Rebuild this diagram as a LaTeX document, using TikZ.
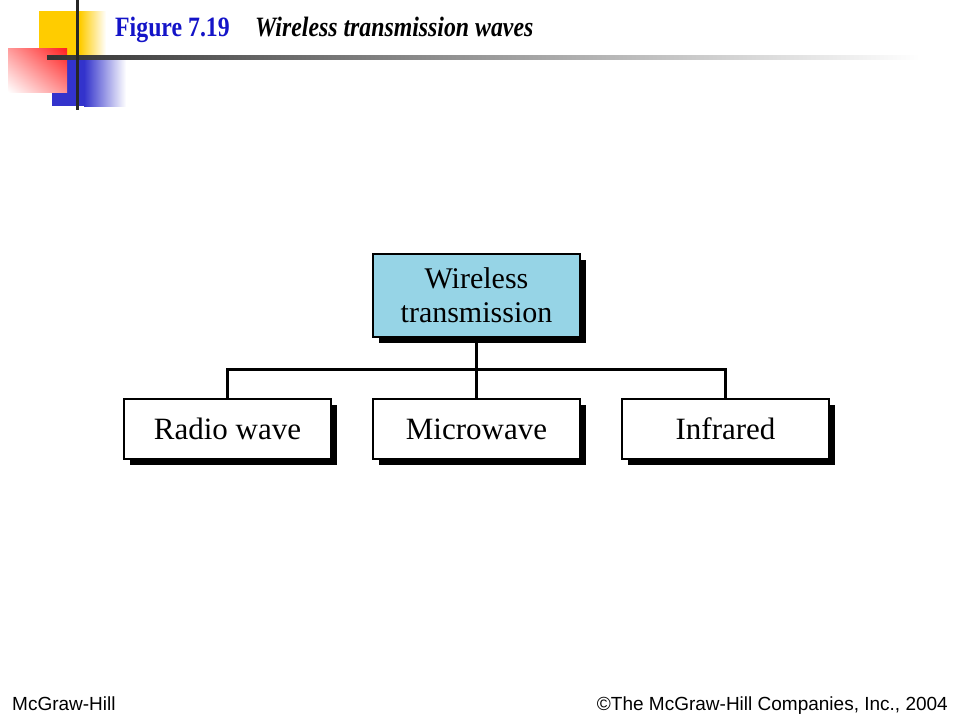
\documentclass[tikz,border=0pt]{standalone}
\usepackage{fontspec}
\setmainfont{Liberation Serif}
\newfontfamily\footfont{Liberation Sans}
\usetikzlibrary{shadows,shadings}
\definecolor{boxblue}{RGB}{150,212,230}
\definecolor{titleblue}{RGB}{20,20,200}
\definecolor{decoyellow}{RGB}{255,204,0}
\definecolor{decored}{RGB}{255,30,30}
\definecolor{decoblue}{RGB}{51,51,204}
\tikzset{
  chartbox/.style={draw=black, line width=1.6pt, minimum width=207pt, inner sep=0pt,
    font=\fontsize{30}{34}\selectfont, align=center,
    general shadow={shadow xshift=6pt, shadow yshift=-6pt, fill=black}},
  topbox/.style={chartbox, fill=boxblue, minimum height=83pt},
  leafbox/.style={chartbox, fill=white, minimum height=60pt, font=\fontsize{31}{34}\selectfont},
  conn/.style={line width=3pt, line cap=rect},
  foot/.style={anchor=base, inner sep=0pt, font=\footfont\fontsize{19}{22}\selectfont}
}
\begin{document}
\begin{tikzpicture}[x=1pt,y=-1pt]
\useasboundingbox (0,0) rectangle (960,720);
\fill[white] (0,0) rectangle (960,720);
% decoration
\fill[decoyellow] (39,11) rectangle (80,57);
\shade[left color=decoyellow, right color=white] (80,11) rectangle (106,57);
\fill[decoblue] (52,57) rectangle (84,106);
\shade[left color=decoblue, right color=white] (84,57) rectangle (126,106);
\shade[upper right=decored, upper left=decored!45, lower left=white, lower right=decored!50] (8,48) rectangle (67,92);
\shade[left color=black!80, right color=white] (47,55) rectangle (920,59);
\fill[black!85] (75.5,0) rectangle (78.5,110);
% title
\node[anchor=base west, inner sep=0pt, text=titleblue, font=\fontsize{28}{30}\selectfont\bfseries] (fig) at (115,36) {\scalebox{0.85}[1]{Figure 7.19}};
\node[anchor=base west, inner sep=0pt, font=\fontsize{28}{30}\selectfont\bfseries\itshape] (cap) at (255,36) {\scalebox{0.85}[1]{Wireless transmission waves}};
% chart
\node[topbox] (wt) at (476.5,295.5) {Wireless\\transmission};
\node[leafbox] (radio) at (227.5,429) {Radio wave};
\node[leafbox] (micro) at (476.5,429) {Microwave};
\node[leafbox] (infra) at (725.5,429) {Infrared};
\coordinate (bus) at (476.5,369);
\draw[conn] (wt.south) -- (micro.north);
\draw[conn] (radio.north) |- (bus) -| (infra.north);
% footer
\node[foot, anchor=base west] (mh) at (12,710) {McGraw-Hill};
\node[foot, anchor=base east] (copy) at (948,710) {©The McGraw-Hill Companies, Inc., 2004};
\end{tikzpicture}
\end{document}
